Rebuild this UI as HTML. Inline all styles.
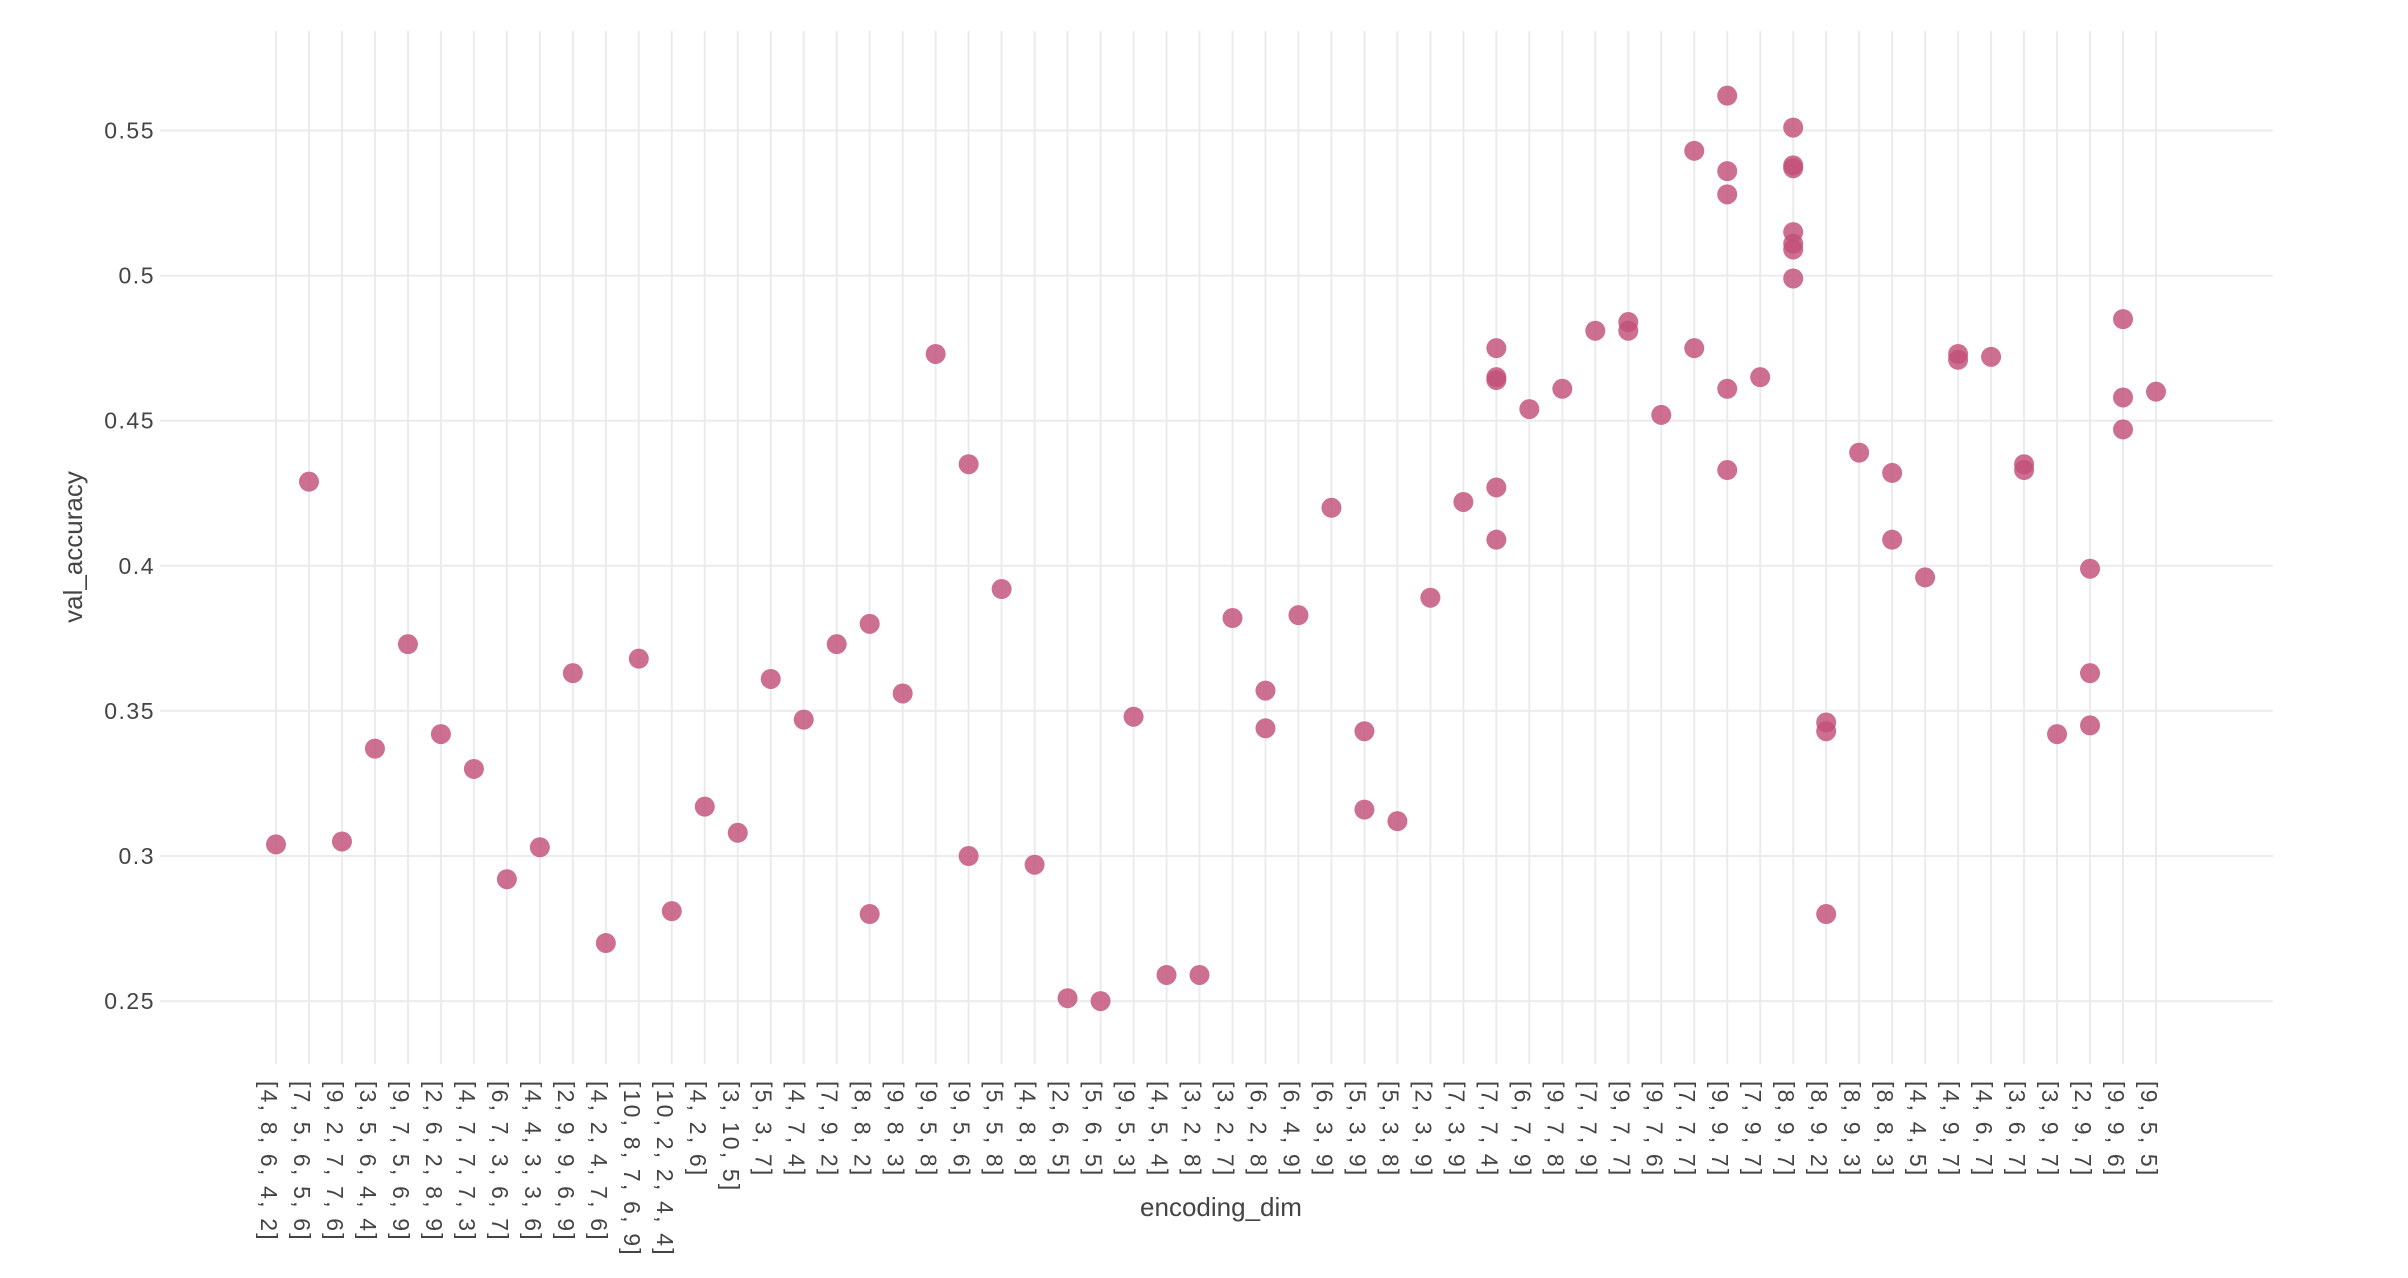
<!DOCTYPE html>
<html><head><meta charset="utf-8">
<style>
html,body{margin:0;padding:0;background:#fff;}
svg{display:block;font-family:"Liberation Sans",sans-serif;}
</style></head>
<body>
<svg id="chart" width="2408" height="1278" viewBox="0 0 2408 1278" xmlns="http://www.w3.org/2000/svg">
<rect width="2408" height="1278" fill="#fff"/>
<g id="grid"></g>
<g id="yticks"></g>
<g id="xticks"></g>
<g id="points"></g>
<text x="0" y="0" transform="translate(82,547) rotate(-90)" text-anchor="middle" font-size="26" fill="#444">val_accuracy</text>
<text x="1221" y="1216" text-anchor="middle" font-size="26" fill="#444">encoding_dim</text>
</svg>
<script>
const categories = ["[4, 8, 6, 4, 2]","[7, 5, 6, 5, 6]","[9, 2, 7, 7, 6]","[3, 5, 6, 4, 4]","[9, 7, 5, 6, 9]","[2, 6, 2, 8, 9]","[4, 7, 7, 7, 3]","[6, 7, 3, 6, 7]","[4, 4, 3, 3, 6]","[2, 9, 9, 6, 9]","[4, 2, 4, 7, 6]","[10, 8, 7, 6, 9]","[10, 2, 2, 4, 4]","[4, 2, 6]","[3, 10, 5]","[5, 3, 7]","[4, 7, 4]","[7, 9, 2]","[8, 8, 2]","[9, 8, 3]","[9, 5, 8]","[9, 5, 6]","[5, 5, 8]","[4, 8, 8]","[2, 6, 5]","[5, 6, 5]","[9, 5, 3]","[4, 5, 4]","[3, 2, 8]","[3, 2, 7]","[6, 2, 8]","[6, 4, 9]","[6, 3, 9]","[5, 3, 9]","[5, 3, 8]","[2, 3, 9]","[7, 3, 9]","[7, 7, 4]","[6, 7, 9]","[9, 7, 8]","[7, 7, 9]","[9, 7, 7]","[9, 7, 6]","[7, 7, 7]","[9, 9, 7]","[7, 9, 7]","[8, 9, 7]","[8, 9, 2]","[8, 9, 3]","[8, 8, 3]","[4, 4, 5]","[4, 9, 7]","[4, 6, 7]","[3, 6, 7]","[3, 9, 7]","[2, 9, 7]","[9, 9, 6]","[9, 5, 5]"];
const pointCategoryIndex = [0,1,2,3,4,5,6,7,8,9,10,11,12,13,14,15,16,17,18,18,19,20,21,21,22,23,24,25,26,27,28,29,30,30,31,32,33,33,34,35,36,37,37,37,37,37,38,39,40,41,41,42,43,43,44,44,44,44,44,45,46,46,46,46,46,46,46,47,47,47,48,49,49,50,51,51,52,53,53,54,55,55,55,56,56,56,57];
const pointValues = [0.304,0.429,0.305,0.337,0.373,0.342,0.330,0.292,0.303,0.363,0.270,0.368,0.281,0.317,0.308,0.361,0.347,0.373,0.380,0.280,0.356,0.473,0.435,0.300,0.392,0.297,0.251,0.250,0.348,0.259,0.259,0.382,0.357,0.344,0.383,0.420,0.343,0.316,0.312,0.389,0.422,0.475,0.465,0.464,0.427,0.409,0.454,0.461,0.481,0.484,0.481,0.452,0.543,0.475,0.562,0.536,0.528,0.461,0.433,0.465,0.551,0.538,0.537,0.515,0.511,0.509,0.499,0.346,0.343,0.280,0.439,0.432,0.409,0.396,0.473,0.471,0.472,0.435,0.433,0.342,0.399,0.363,0.345,0.485,0.458,0.447,0.460];
const yTickValues = [0.25,0.3,0.35,0.4,0.45,0.5,0.55];
const yTickLabels = ["0.25","0.3","0.35","0.4","0.45","0.5","0.55"];

const NS="http://www.w3.org/2000/svg";
const plotLeft=160, plotRight=2273, plotTop=31, plotBottom=1064;
const x0=276, xStep=(2156-276)/57;
function xScale(i){return x0+i*xStep;}
function yScale(v){return 130.5+(0.55-v)/0.05*145.1;}

const grid=document.getElementById('grid');
const yt=document.getElementById('yticks');
const xt=document.getElementById('xticks');
const pts=document.getElementById('points');

yTickValues.forEach((v,k)=>{
  const l=document.createElementNS(NS,'line');
  l.setAttribute('x1',plotLeft);l.setAttribute('x2',plotRight);
  l.setAttribute('y1',yScale(v));l.setAttribute('y2',yScale(v));
  l.setAttribute('stroke','#ebebeb');l.setAttribute('stroke-width','2');
  
  
  grid.appendChild(l);
  const t=document.createElementNS(NS,'text');
  t.setAttribute('x',155);t.setAttribute('y',yScale(v)+8);
  t.setAttribute('text-anchor','end');t.setAttribute('font-size','23');t.setAttribute('fill','#444');
  t.setAttribute('letter-spacing','1.5');
  t.textContent=yTickLabels[k];
  
  
  yt.appendChild(t);
});

categories.forEach((c,i)=>{
  const x=xScale(i);
  const l=document.createElementNS(NS,'line');
  l.setAttribute('x1',x);l.setAttribute('x2',x);
  l.setAttribute('y1',plotTop);l.setAttribute('y2',plotBottom);
  l.setAttribute('stroke','#ebebeb');l.setAttribute('stroke-width','2');
  
  
  grid.appendChild(l);
  const t=document.createElementNS(NS,'text');
  t.setAttribute('transform','translate('+(x-15)+',1081) rotate(90)');
  t.setAttribute('font-size','23');t.setAttribute('fill','#444');
  t.setAttribute('letter-spacing','2.2');
  t.textContent=c;
  
  
  xt.appendChild(t);
});

pointValues.forEach((v,k)=>{
  const c=document.createElementNS(NS,'circle');
  c.setAttribute('cx',xScale(pointCategoryIndex[k]));
  c.setAttribute('cy',yScale(v));
  c.setAttribute('r','10');
  c.setAttribute('fill','#c24f78');
  c.setAttribute('fill-opacity','0.82');
  
  
  pts.appendChild(c);
});
</script>
</body></html>
